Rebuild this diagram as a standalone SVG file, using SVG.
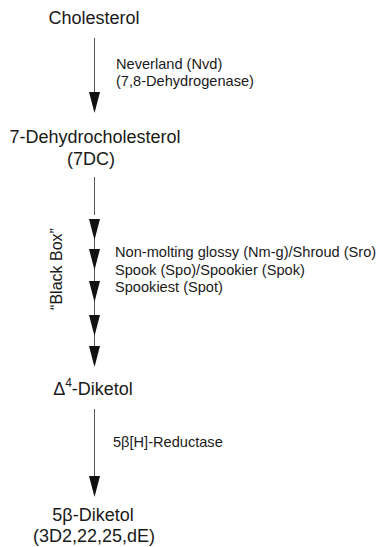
<svg xmlns="http://www.w3.org/2000/svg" width="382" height="547" viewBox="0 0 382 547">
<style>
text{font-family:"Liberation Sans",Arial,Helvetica,sans-serif;fill:#1a1a1a}
.main{font-size:18px;text-anchor:middle}
.lbl{font-size:14.6px}
.ln{stroke:#555;stroke-width:1;fill:none}
.hd{fill:#111}
</style>
<defs>
<path id="head" d="M-5.5,0 L5.5,0 L0,21 Z"/>
</defs>
<rect width="382" height="547" fill="#fff"/>
<g id="connectors">
<line class="ln" x1="94.5" y1="38" x2="94.5" y2="95"/>
<use href="#head" class="hd" x="94.5" y="92"/>
<line class="ln" x1="94.5" y1="177" x2="94.5" y2="215"/>
<line class="ln" x1="94.5" y1="222" x2="94.5" y2="360"/>
<use href="#head" class="hd" x="94.5" y="219"/>
<use href="#head" class="hd" x="94.5" y="249"/>
<use href="#head" class="hd" x="94.5" y="281"/>
<use href="#head" class="hd" x="94.5" y="315"/>
<use href="#head" class="hd" x="94.5" y="346"/>
<line class="ln" x1="94.5" y1="409" x2="94.5" y2="480"/>
<use href="#head" class="hd" x="94.5" y="476"/>
</g>
<g id="cholesterol"><text class="main" x="94" y="24">Cholesterol</text></g>
<g id="nvd-label"><text class="lbl" x="116" y="69">Neverland (Nvd)</text><text class="lbl" x="116" y="86">(7,8-Dehydrogenase)</text></g>
<g id="dehydrocholesterol"><text class="main" x="95" y="143">7-Dehydrocholesterol</text><text class="main" x="91" y="165">(7DC)</text></g>
<g id="black-box"><text transform="translate(62,269) rotate(-90)" style="font-size:16px;text-anchor:middle">“Black Box”</text></g>
<g id="blackbox-label"><text class="lbl" x="115" y="257">Non-molting glossy (Nm-g)/Shroud (Sro)</text><text class="lbl" x="115" y="274.5">Spook (Spo)/Spookier (Spok)</text><text class="lbl" x="115" y="292">Spookiest (Spot)</text></g>
<g id="diketol"><text class="main" x="93" y="395">Δ<tspan dy="-8" style="font-size:12px">4</tspan><tspan dy="8">-Diketol</tspan></text></g>
<g id="reductase-label"><text class="lbl" x="113" y="447">5β[H]-Reductase</text></g>
<g id="beta-diketol"><text class="main" x="93" y="521">5β-Diketol</text><text class="main" x="94" y="542">(3D2,22,25,dE)</text></g>
</svg>
